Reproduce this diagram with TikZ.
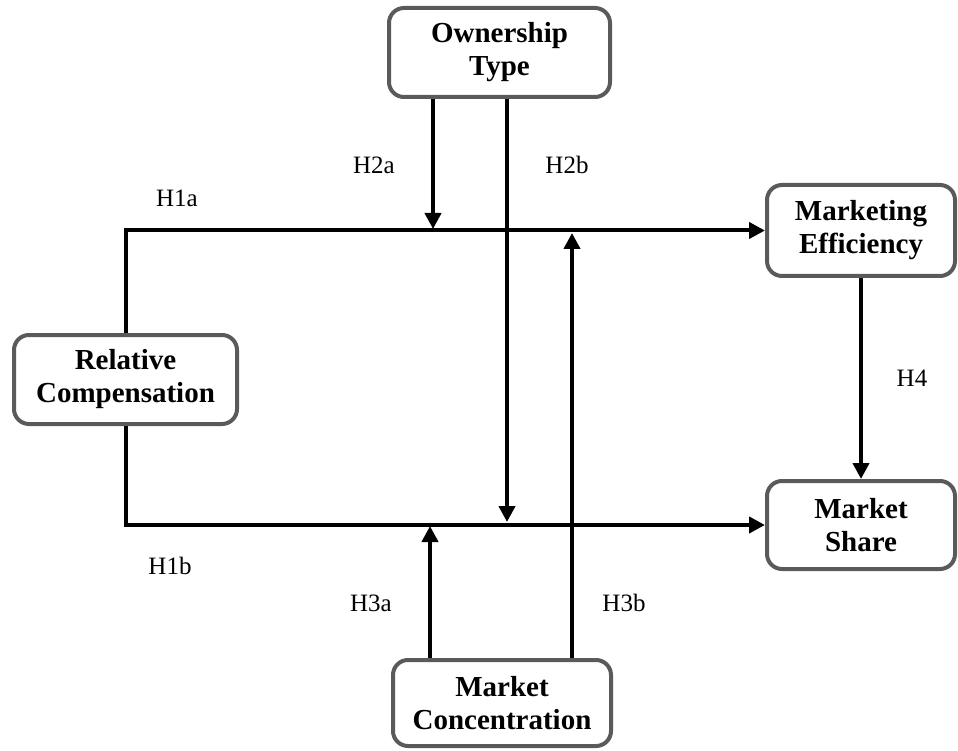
\documentclass[tikz,border=0pt]{standalone}
\usepackage{fontspec}
\setmainfont{Liberation Serif}
\usetikzlibrary{arrows.meta}
\definecolor{boxgray}{HTML}{5A5A5A}
\tikzset{
  varbox/.style={draw=boxgray, line width=4pt, rounded corners=15pt, fill=white,
    inner sep=0pt, align=center, font=\fontsize{29}{33}\selectfont\bfseries},
  link/.style={line width=4pt, -{Triangle[length=16pt,width=16pt]}},
  hyp/.style={font=\fontsize{25}{30}\selectfont, inner sep=0pt}
}
\begin{document}
\begin{tikzpicture}[x=1pt,y=-1pt]
\useasboundingbox (0,0) rectangle (958,751);
% boxes
\node[varbox, minimum width=221pt, minimum height=89pt] (own) at (499.5,52.5) {Ownership\\Type};
\node[varbox, minimum width=223pt, minimum height=89pt] (rel) at (125.5,379.5) {Relative\\Compensation};
\node[varbox, minimum width=218pt, minimum height=86pt] (conc) at (502,703) {Market\\Concentration};
\node[varbox, minimum width=188pt, minimum height=91pt] (eff) at (861,230.5) {Marketing\\Efficiency};
\node[varbox, minimum width=188pt, minimum height=88pt] (share) at (861,525) {Market\\Share};
% junction coordinates
\coordinate (t2a) at (433,229);
\coordinate (t2b) at (507,522);
\coordinate (t3a) at (430,526);
\coordinate (t3b) at (572,233);
% main paths
\draw[link] (rel.north) |- (eff.west);
\draw[link] (rel.south) |- (share.west);
% moderators
\draw[link] (own.south -| t2a) -- (t2a);
\draw[link] (own.south -| t2b) -- (t2b);
\draw[link] (conc.north -| t3a) -- (t3a);
\draw[link] (conc.north -| t3b) -- (t3b);
\draw[link] (eff.south) -- (share.north);
% labels
\node[hyp] (h1a) at (177,198) {H1a};
\node[hyp] (h1b) at (170,566) {H1b};
\node[hyp] (h2a) at (374,165) {H2a};
\node[hyp] (h2b) at (567,165) {H2b};
\node[hyp] (h3a) at (371,603) {H3a};
\node[hyp] (h3b) at (624,603) {H3b};
\node[hyp] (h4) at (912,378) {H4};
\end{tikzpicture}
\end{document}
